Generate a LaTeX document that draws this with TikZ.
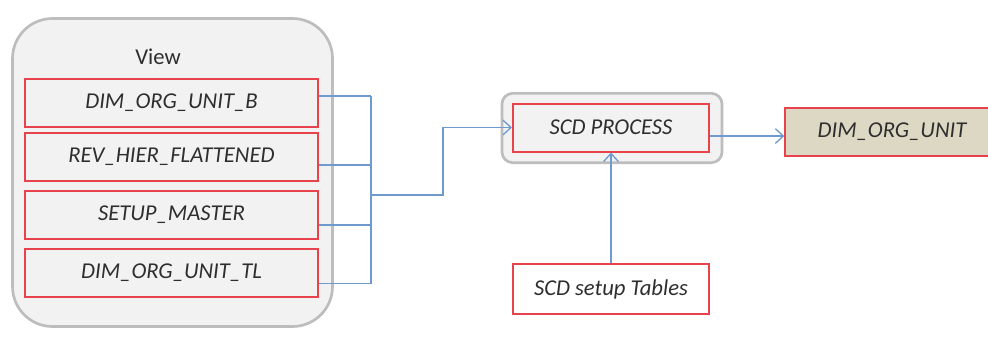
\documentclass[tikz,border=0pt]{standalone}
\usepackage{fontspec}
\setmainfont{Carlito}
\usetikzlibrary{arrows.meta}
\tikzset{>={Straight Barb[length=6pt,width=11pt]}}
\definecolor{boxred}{HTML}{E8434D}
\definecolor{grpgray}{HTML}{BDBDBD}
\definecolor{grpfill}{HTML}{F2F2F2}
\definecolor{linkblue}{HTML}{6E9AD0}
\definecolor{tan}{HTML}{DDD8C3}
\definecolor{txt}{HTML}{2E2E2E}

\begin{document}
\begin{tikzpicture}[x=0.75pt,y=-0.75pt,
  grp/.style={draw=grpgray,line width=2pt,fill=grpfill,inner sep=0pt},
  tbl/.style={draw=boxred,line width=1.5pt,fill=grpfill,inner sep=0pt,
    minimum width=220pt,minimum height=36pt,text=txt,
    font=\fontsize{17}{20}\selectfont\itshape},
  link/.style={draw=linkblue,line width=1pt}]
\useasboundingbox (0,0) rectangle (988,347);
% left group
\node[grp,rounded corners=30pt,minimum width=240pt,minimum height=231pt] (view) at (172.5,172.5) {};
\node[text=txt,font=\fontsize{17}{20}\selectfont] (vlab) at (158,57) {View};
\node[tbl] (b1) at (171.5,102.5) {DIM\_ORG\_UNIT\_B};
\node[tbl] (b2) at (171.5,157) {REV\_HIER\_FLATTENED};
\node[tbl] (b3) at (171.5,215) {SETUP\_MASTER};
\node[tbl] (b4) at (171.5,273) {DIM\_ORG\_UNIT\_TL};
% process group
\node[grp,rounded corners=8pt,minimum width=165pt,minimum height=52pt] (pgrp) at (612,128) {};
\node[tbl,minimum width=147pt] (proc) at (611,127.5) {SCD PROCESS};
\node[tbl,fill=white,minimum width=147pt,minimum height=37pt] (setup) at (611,289) {SCD setup Tables};
\node[tbl,fill=tan,minimum width=160pt] (dim) at (892,131.5) {DIM\_ORG\_UNIT};
% connectors
\coordinate (bus) at (371,195);
\coordinate (turn) at (443,127.5);
\foreach \b/\d in {b1/5,b2/-6,b3/-7.5,b4/-8}
\draw[link] ([yshift=\d pt]\b.east) -- ([yshift=\d pt]\b.east -| bus);
\draw[link] ([yshift=5pt]b1.east -| bus) -- ([yshift=-8pt]b4.east -| bus);
\draw[link,->] (bus) -| (turn) -- (proc.west);
\draw[link,->] ([yshift=-6.4pt]proc.east) -- ([yshift=-6.4pt]proc.east -| dim.west);
\draw[link,->] (setup.north) -- (proc.south);
\end{tikzpicture}
\end{document}
